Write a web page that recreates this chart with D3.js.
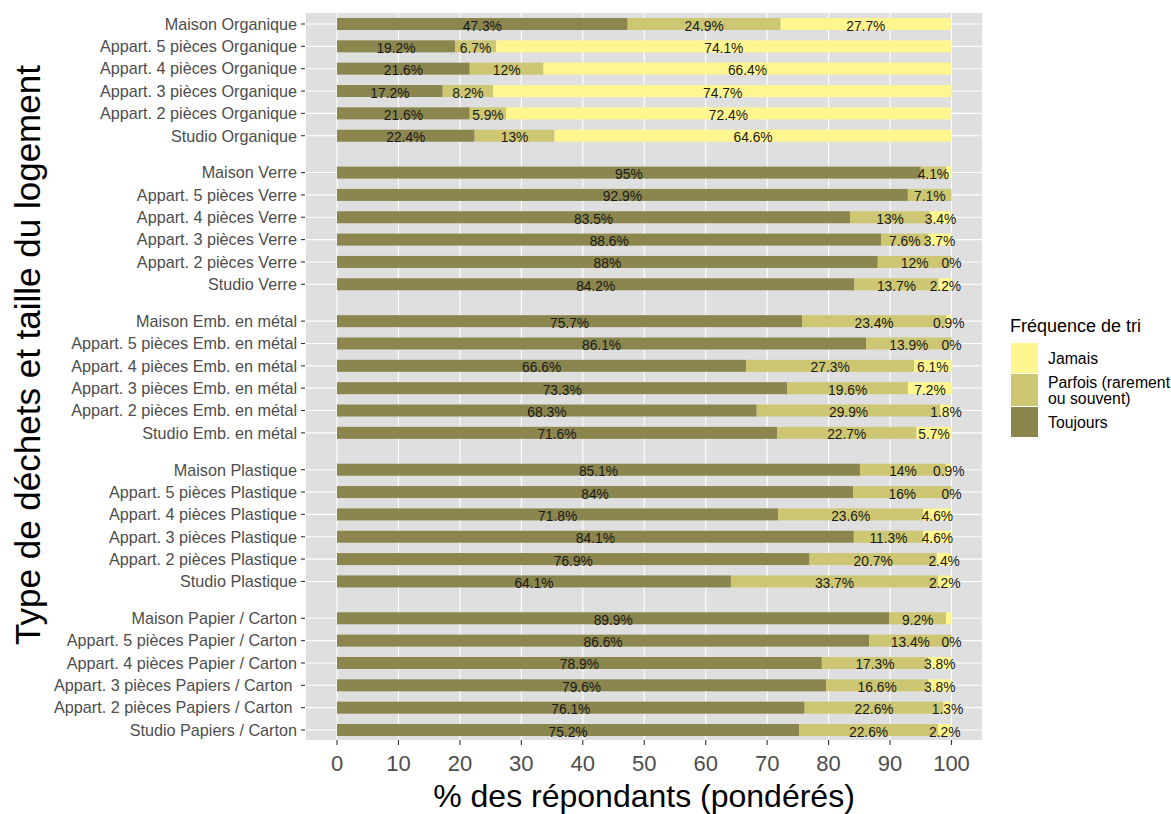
<!DOCTYPE html>
<html><head><meta charset="utf-8">
<script src="https://cdn.jsdelivr.net/npm/d3@7"></script>
<style>body{margin:0;background:#fff;} text{font-family:"Liberation Sans",Arial,sans-serif;}</style>
</head><body><svg id="c" width="1171" height="814"></svg>
<script>
const categories = [
 "Maison Organique","Appart. 5 pièces Organique","Appart. 4 pièces Organique","Appart. 3 pièces Organique","Appart. 2 pièces Organique","Studio Organique",
 "Maison Verre","Appart. 5 pièces Verre","Appart. 4 pièces Verre","Appart. 3 pièces Verre","Appart. 2 pièces Verre","Studio Verre",
 "Maison Emb. en métal","Appart. 5 pièces Emb. en métal","Appart. 4 pièces Emb. en métal","Appart. 3 pièces Emb. en métal","Appart. 2 pièces Emb. en métal","Studio Emb. en métal",
 "Maison Plastique","Appart. 5 pièces Plastique","Appart. 4 pièces Plastique","Appart. 3 pièces Plastique","Appart. 2 pièces Plastique","Studio Plastique",
 "Maison Papier / Carton","Appart. 5 pièces Papier / Carton","Appart. 4 pièces Papier / Carton","Appart. 3 pièces Papiers / Carton ","Appart. 2 pièces Papiers / Carton ","Studio Papiers / Carton"
];
const toujours = [47.3,19.2,21.6,17.2,21.6,22.4, 95,92.9,83.5,88.6,88,84.2, 75.7,86.1,66.6,73.3,68.3,71.6, 85.1,84,71.8,84.1,76.9,64.1, 89.9,86.6,78.9,79.6,76.1,75.2];
const parfois  = [24.9,6.7,12,8.2,5.9,13, 4.1,7.1,13,7.6,12,13.7, 23.4,13.9,27.3,19.6,29.9,22.7, 14,16,23.6,11.3,20.7,33.7, 9.2,13.4,17.3,16.6,22.6,22.6];
const jamais   = [27.7,74.1,66.4,74.7,72.4,64.6, 0.9,null,3.4,3.7,0,2.2, 0.9,0,6.1,7.2,1.8,5.7, 0.9,0,4.6,4.6,2.4,2.2, 0.9,0,3.8,3.8,1.3,2.2];
const jamaisUnlabelled = ["Maison Verre","Maison Papier / Carton"];
const groupOf = [0,0,0,0,0,0,1,1,1,1,1,1,2,2,2,2,2,2,3,3,3,3,3,3,4,4,4,4,4,4];
const xTicks = [0,10,20,30,40,50,60,70,80,90,100];
const seriesNames = ["Toujours","Parfois (rarement ou souvent)","Jamais"];
const colors = ["#8B864E","#CDC673","#FFF68F"];

const svg = d3.select("#c");
const P = {l:306, r:982, t:13, b:740};
const x = d3.scaleLinear().domain([0,100]).range([337,951.5]);
const G = 0.65;
const y = d3.scaleLinear().domain([0, 29+4*G]).range([24,730]);
const yPos = i => y(i + groupOf[i]*G);

svg.append("rect").attr("x",P.l).attr("y",P.t).attr("width",P.r-P.l).attr("height",P.b-P.t).attr("fill","#DFDFDF");
// grid
svg.selectAll(".vg").data(xTicks).join("line").attr("x1",d=>x(d)).attr("x2",d=>x(d)).attr("y1",P.t).attr("y2",P.b).attr("stroke","#fff").attr("stroke-width",1.1);
svg.selectAll(".hg").data(categories).join("line").attr("x1",P.l).attr("x2",P.r).attr("y1",(d,i)=>yPos(i)).attr("y2",(d,i)=>yPos(i)).attr("stroke","#fff").attr("stroke-width",1.1);

// bars
const rows = categories.map((c,i)=>({c,i,vals:[toujours[i],parfois[i],jamais[i]]}));
const barH = 12;
rows.forEach(r=>{
  let cum = 0;
  r.vals.forEach((v,k)=>{
    if(v===null) return;
    svg.append("rect").attr("x",x(cum)).attr("width",x(cum+v)-x(cum)).attr("y",yPos(r.i)-barH/2).attr("height",barH).attr("fill",colors[k]);
    cum += v;
  });
});
rows.forEach(r=>{
  let cum = 0;
  r.vals.forEach((v,k)=>{
    if(v===null) return;
    const show = !(k===2 && jamaisUnlabelled.includes(r.c));
    if(show) svg.append("text").attr("x",x(cum+v/2)).attr("y",yPos(r.i)+6.5).attr("text-anchor","middle").attr("font-size",13.8).attr("fill","#1a1a1a").text(v+"%");
    cum += v;
  });
});

// y axis
categories.forEach((c,i)=>{
  svg.append("line").attr("x1",301).attr("x2",305).attr("y1",yPos(i)).attr("y2",yPos(i)).attr("stroke","#333").attr("stroke-width",1.1);
  svg.append("text").attr("x",297).attr("y",yPos(i)+5.8).attr("text-anchor","end").attr("font-size",16.2).attr("fill","#4D4D4D").style("white-space","pre").text(c);
});
// x axis
xTicks.forEach(t=>{
  svg.append("line").attr("x1",x(t)).attr("x2",x(t)).attr("y1",P.b).attr("y2",P.b+5).attr("stroke","#333").attr("stroke-width",1.1);
  svg.append("text").attr("x",x(t)).attr("y",771).attr("text-anchor","middle").attr("font-size",22).attr("fill","#4D4D4D").text(t);
});
svg.append("text").attr("x",(P.l+P.r)/2).attr("y",807).attr("text-anchor","middle").attr("font-size",32).attr("fill","#000").text("% des répondants (pondérés)");
svg.append("text").attr("transform","translate(40,355) rotate(-90)").attr("text-anchor","middle").attr("font-size",35).attr("fill","#000").text("Type de déchets et taille du logement");

// legend
const L = svg.append("g");
L.append("text").attr("x",1010).attr("y",332).attr("font-size",18).attr("fill","#000").text("Fréquence de tri");
const keys = [{k:2,y:343,h:30,lines:["Jamais"]},{k:1,y:374,h:32,lines:["Parfois (rarement","ou souvent)"]},{k:0,y:407,h:30,lines:["Toujours"]}];
keys.forEach(kk=>{
  L.append("rect").attr("x",1011).attr("y",kk.y).attr("width",27).attr("height",kk.h).attr("fill",colors[kk.k]);
  const cy = kk.y+kk.h/2;
  kk.lines.forEach((ln,j)=>{
    L.append("text").attr("x",1048).attr("y",cy+5.5 + (j-(kk.lines.length-1)/2)*16).attr("font-size",15.8).attr("fill","#000").text(ln);
  });
});
</script></body></html>
